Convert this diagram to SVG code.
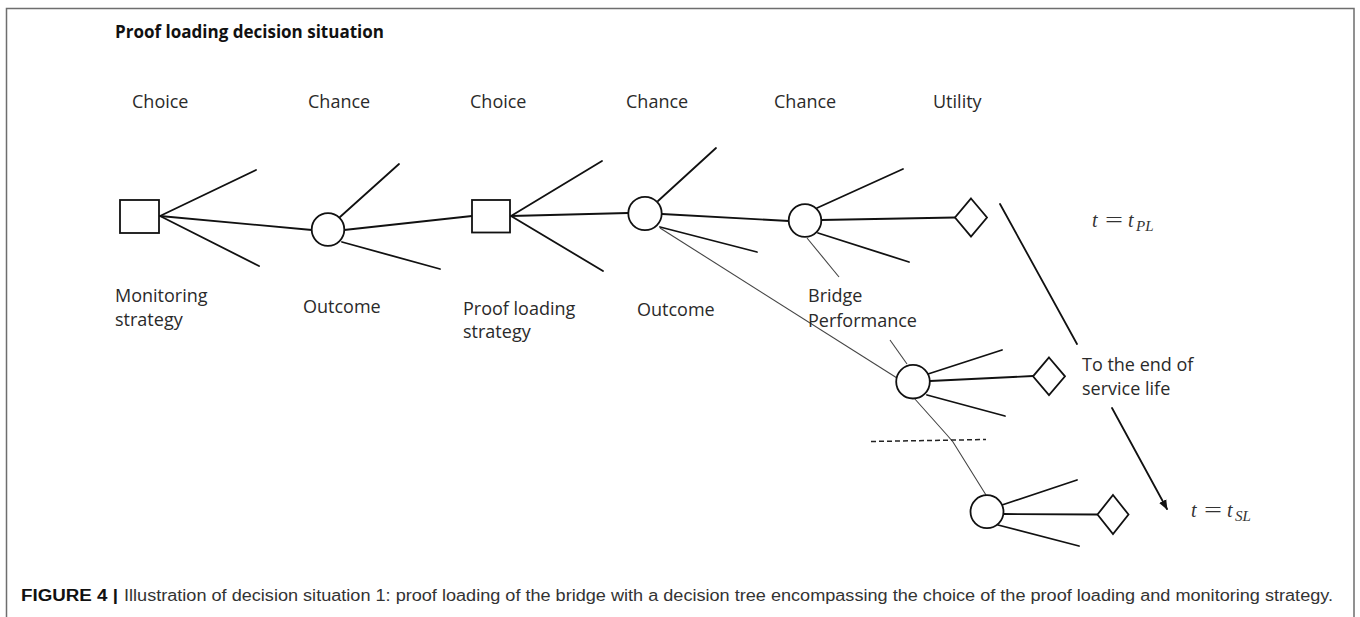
<svg xmlns="http://www.w3.org/2000/svg" width="1360" height="617" viewBox="0 0 1360 617">
<defs>
<style>
.frame{fill:none;stroke:#6e6e6e;stroke-width:1.5}
.node{fill:#fff;stroke:#111;stroke-width:1.8}
.ln{fill:none;stroke:#111;stroke-width:1.8;stroke-linecap:round}
.thin{fill:none;stroke:#444;stroke-width:1.1}
.dash{fill:none;stroke:#222;stroke-width:1.5;stroke-dasharray:5 3}
.lbl{font-family:"Open Sans","Liberation Sans",sans-serif;font-size:18px;fill:#2a2a2a}
.title{font-family:"Open Sans","Liberation Sans",sans-serif;font-size:17px;font-weight:bold;fill:#111}
.math{font-family:"Liberation Serif","DejaVu Serif",serif;font-size:20px;fill:#333}
.sub{font-family:"Liberation Serif","DejaVu Serif",serif;font-size:15px;font-style:italic;fill:#333}
.cap{font-family:"Liberation Sans",Arial,sans-serif;font-size:16px;fill:#333}
.capb{font-family:"Liberation Sans",Arial,sans-serif;font-size:16px;font-weight:bold;fill:#111}
</style>
<marker id="arr" viewBox="0 0 10 10" refX="9" refY="5" markerWidth="10" markerHeight="10" markerUnits="userSpaceOnUse" orient="auto">
<path d="M0,1 L10,5 L0,9 Z" fill="#111"/>
</marker>
</defs>
<rect width="1360" height="617" fill="#fff"/>
<path class="frame" d="M6.5,617 V8.5 H1354 V617"/>
<text class="title" x="115" y="38" textLength="269" lengthAdjust="spacingAndGlyphs">Proof loading decision situation</text>

<g id="headers">
<text class="lbl" x="132" y="108">Choice</text>
<text class="lbl" x="308" y="108">Chance</text>
<text class="lbl" x="470" y="108">Choice</text>
<text class="lbl" x="626" y="108">Chance</text>
<text class="lbl" x="774" y="108">Chance</text>
<text class="lbl" x="933" y="108">Utility</text>
</g>

<g id="connectors">
<line class="ln" x1="160" y1="216" x2="256" y2="170"/>
<line class="ln" x1="160" y1="216" x2="259" y2="266"/>
<line class="ln" x1="160" y1="216" x2="312" y2="230"/>
<line class="ln" x1="340" y1="217" x2="399" y2="164"/>
<line class="ln" x1="342" y1="242" x2="440" y2="269"/>
<line class="ln" x1="344" y1="230" x2="472" y2="216"/>
<line class="ln" x1="511" y1="216" x2="602" y2="161"/>
<line class="ln" x1="511" y1="216" x2="603" y2="271"/>
<line class="ln" x1="511" y1="216" x2="628" y2="213"/>
<line class="ln" x1="658" y1="201" x2="716" y2="148"/>
<line class="ln" x1="660" y1="227" x2="757" y2="252"/>
<line class="ln" x1="662" y1="214" x2="789" y2="221"/>
<line class="thin" x1="660" y1="228" x2="897" y2="378"/>
<line class="ln" x1="817" y1="208" x2="903" y2="169"/>
<line class="ln" x1="821" y1="220" x2="955" y2="217.5"/>
<line class="ln" x1="818" y1="233" x2="909" y2="262"/>
<line class="thin" x1="807" y1="238" x2="839" y2="277"/>
<line class="thin" x1="890" y1="340" x2="907" y2="364"/>
<line class="ln" x1="928" y1="374" x2="1002" y2="350"/>
<line class="ln" x1="930" y1="381" x2="1033" y2="376"/>
<line class="ln" x1="927" y1="395" x2="1005" y2="416"/>
<polyline class="thin" points="914,398 947,435 953,442 986,495"/>
<line class="dash" x1="871" y1="441.5" x2="986" y2="439.5"/>
<line class="ln" x1="1002" y1="505" x2="1077" y2="480"/>
<line class="ln" x1="1003.5" y1="514" x2="1097" y2="514.5"/>
<line class="ln" x1="998" y1="525" x2="1079" y2="546"/>
<line class="ln" x1="1000" y1="204" x2="1077" y2="344"/>
<line class="ln" x1="1112" y1="408" x2="1167" y2="509" marker-end="url(#arr)"/>
</g>

<g id="choice1">
<rect class="node" x="120" y="200" width="39" height="33"/>
<text class="lbl" x="115" y="302">Monitoring</text>
<text class="lbl" x="115" y="326">strategy</text>
</g>
<g id="chance1">
<circle class="node" cx="328" cy="229.5" r="16.3"/>
<text class="lbl" x="303" y="313">Outcome</text>
</g>
<g id="choice2">
<rect class="node" x="472" y="200" width="38" height="32.5"/>
<text class="lbl" x="463" y="315">Proof loading</text>
<text class="lbl" x="463" y="338">strategy</text>
</g>
<g id="chance2">
<circle class="node" cx="645" cy="213.5" r="16.7"/>
<text class="lbl" x="637" y="316">Outcome</text>
</g>
<g id="chance3">
<circle class="node" cx="805" cy="220.5" r="16.3"/>
<text class="lbl" x="808" y="302">Bridge</text>
<text class="lbl" x="808" y="327">Performance</text>
</g>
<g id="utility1">
<polygon class="node" points="971,198.5 987,217.5 971,236.5 955,217.5"/>
</g>
<g id="chance4">
<circle class="node" cx="913" cy="381.7" r="16.8"/>
</g>
<g id="utility2">
<polygon class="node" points="1049,357.5 1065,376.3 1049,395 1033,376.3"/>
</g>
<g id="chance5">
<circle class="node" cx="987" cy="511.7" r="16.5"/>
</g>
<g id="utility3">
<polygon class="node" points="1113,495 1128.5,514.5 1113,534 1097.5,514.5"/>
</g>

<g id="time-labels">
<text class="math" x="1092" y="227" font-style="italic">t</text>
<text class="math" x="1105" y="227" textLength="18" lengthAdjust="spacingAndGlyphs">=</text>
<text class="math" x="1128" y="227" font-style="italic">t</text>
<text class="sub" x="1136" y="231">PL</text>
<text class="lbl" x="1082" y="371">To the end of</text>
<text class="lbl" x="1082" y="395">service life</text>
<text class="math" x="1191" y="517" font-style="italic">t</text>
<text class="math" x="1204" y="517" textLength="18" lengthAdjust="spacingAndGlyphs">=</text>
<text class="math" x="1227" y="517" font-style="italic">t</text>
<text class="sub" x="1235" y="521">SL</text>
</g>

<g id="caption">
<text class="capb" x="21" y="601" textLength="97" lengthAdjust="spacingAndGlyphs">FIGURE 4 |</text>
<text class="cap" x="124" y="601" textLength="1209" lengthAdjust="spacingAndGlyphs">Illustration of decision situation 1: proof loading of the bridge with a decision tree encompassing the choice of the proof loading and monitoring strategy.</text>
</g>
</svg>
